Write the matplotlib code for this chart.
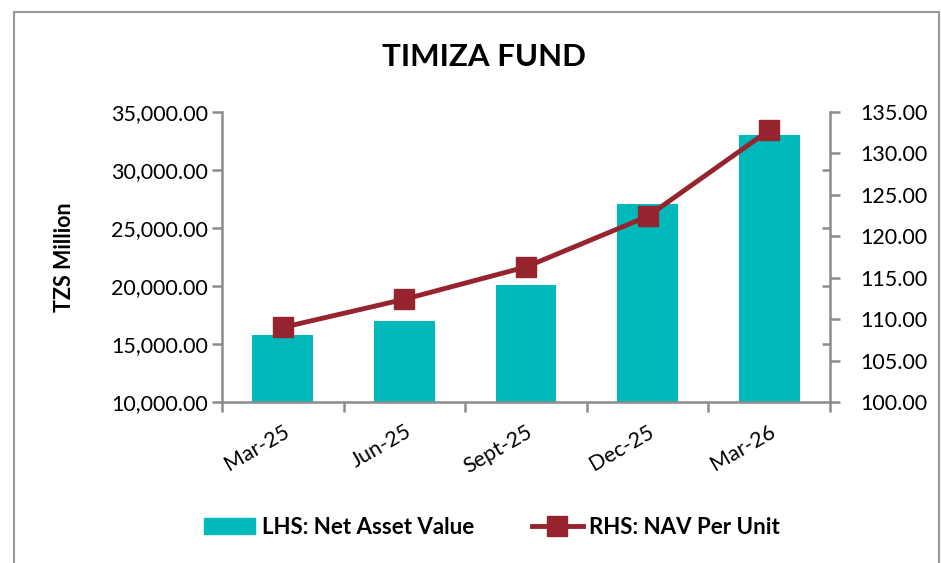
import numpy as np
import matplotlib.pyplot as plt
from matplotlib.patches import Rectangle
from matplotlib.lines import Line2D
from matplotlib.ticker import FuncFormatter

plt.rcParams['font.family'] = ['Lato', 'DejaVu Sans']

# data
quarters = ["Mar-25", "Jun-25", "Sept-25", "Dec-25", "Mar-26"]
net_asset_value = [15800, 17000, 20050, 27050, 33000]   # TZS million (LHS)
nav_per_unit = [109.0, 112.4, 116.3, 122.4, 132.8]      # RHS
lhs_ticks = [10000, 15000, 20000, 25000, 30000, 35000]
rhs_ticks = [100, 105, 110, 115, 120, 125, 130, 135]

teal = "#00B9BA"
wine = "#96242F"
axis_gray = "#8C8C8C"

fig = plt.figure(figsize=(9.41, 5.63), dpi=100)
fig.patches.append(Rectangle((14 / 941, -0.01), 925 / 941, 1 - 12 / 563 + 0.01,
                             transform=fig.transFigure, fill=False,
                             edgecolor="#9A9A9A", linewidth=1.5))

ax = fig.add_axes([222 / 941, 1 - 402 / 563, 608 / 941, 290 / 563])
ax2 = ax.twinx()

x = np.arange(len(quarters))
ax.bar(x, net_asset_value, width=0.5, color=teal, zorder=2)
ax2.plot(x, nav_per_unit, color=wine, linewidth=3.5, marker="s", markersize=15,
         markerfacecolor=wine, markeredgecolor=wine, zorder=3)

ax.set_xlim(-0.5, len(quarters) - 0.5)
ax.set_ylim(lhs_ticks[0], lhs_ticks[-1])
ax2.set_ylim(rhs_ticks[0], rhs_ticks[-1])
ax.set_yticks(lhs_ticks)
ax2.set_yticks(rhs_ticks)
ax.yaxis.set_major_formatter(FuncFormatter(lambda v, p: f"{v:,.2f}"))
ax2.yaxis.set_major_formatter(FuncFormatter(lambda v, p: f"{v:,.2f}"))

# inward ticks on the right spine at the LHS gridline levels
span_l = lhs_ticks[-1] - lhs_ticks[0]
span_r = rhs_ticks[-1] - rhs_ticks[0]
ax2.set_yticks([rhs_ticks[0] + (t - lhs_ticks[0]) / span_l * span_r for t in lhs_ticks[1:-1]],
               minor=True)
ax2.tick_params(axis="y", which="minor", direction="in", length=6, width=1.8,
                color=axis_gray)

ax.set_xticks(x)
ax.set_xticks(np.arange(-0.5, len(quarters)), minor=True)
ax.set_xticklabels(quarters, rotation=30, ha="right", rotation_mode="anchor",
                   fontsize=15.5)
ax.tick_params(axis="x", which="major", length=0, pad=14)
ax.tick_params(axis="x", which="minor", length=7, width=1.8, color=axis_gray)
ax.tick_params(axis="y", length=7, width=1.8, color=axis_gray, labelsize=15.5, pad=3)
ax2.tick_params(axis="y", which="major", length=7, width=1.8, color=axis_gray,
                labelsize=15.5, pad=15)

for a in (ax, ax2):
    a.spines["top"].set_visible(False)
    for s in ("left", "right", "bottom"):
        a.spines[s].set_color(axis_gray)
        a.spines[s].set_linewidth(1.8)
ax.spines["right"].set_visible(False)
ax2.spines["left"].set_visible(False)
ax2.spines["bottom"].set_visible(False)

ax.set_ylabel("TZS Million", fontsize=15.5, fontweight="bold", labelpad=26)
fig.text(484 / 941, 1 - 57 / 563, "TIMIZA FUND", fontsize=22.5, fontweight="bold",
         ha="center", va="center")

handles = [Rectangle((0, 0), 1, 1, color=teal),
           Line2D([0], [0], color=wine, linewidth=3.5, marker="s", markersize=14)]
fig.legend(handles, ["LHS: Net Asset Value", "RHS: NAV Per Unit"],
           loc="center", bbox_to_anchor=(492 / 941, 1 - 527 / 563), ncol=2,
           frameon=False, handlelength=2.3, columnspacing=2.6,
           handletextpad=0.3, prop={"weight": "bold", "size": 16})

fig.savefig("out.png", dpi=100)
